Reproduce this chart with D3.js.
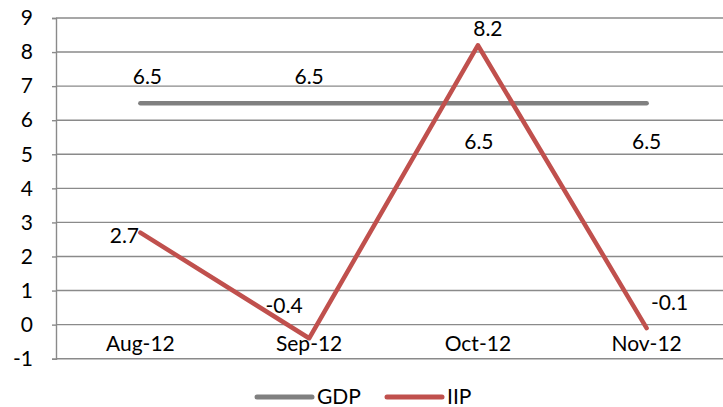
<!DOCTYPE html>
<html>
<head>
<meta charset="utf-8">
<script src="https://cdn.jsdelivr.net/npm/d3@7"></script>
<style>
  body { margin: 0; background: #fff; }
  text { font-family: Lato, "Noto Sans", sans-serif; fill: #000; }
</style>
</head>
<body>
<svg id="chart" width="723" height="407"></svg>
<script>
// data
var months = ['Aug-12', 'Sep-12', 'Oct-12', 'Nov-12'];
var gdp = [6.5, 6.5, 6.5, 6.5];
var iip = [2.7, -0.4, 8.2, -0.1];
var yTicks = [-1, 0, 1, 2, 3, 4, 5, 6, 7, 8, 9];

// label offsets (dx, dy from the point) - Excel placed these by hand-ish
var gdpLabelPos = [[7, -27], [0, -27], [1, 38], [0, 38]];
var iipLabelPos = [[-16, 3], [-25, -33], [10, -17], [23, -25]];

var colors = { gdp: '#808080', iip: '#C0504D', grid: '#8a8a8a' };
var fontSize = '21px';

// plain hyphen instead of d3's unicode minus
var fmt = f => d => d3.format(f)(d).replace('\u2212', '-');

var svg = d3.select('#chart');

var x = d3.scaleBand()
          .domain(months)
          .range([56, 731])
          .padding(0);

var y = d3.scaleLinear()
          .domain([-1, 9])
          .range([358.7, 18]);

var cx = d => x(d) + x.bandwidth() / 2;

// horizontal gridlines
svg.append('g')
  .selectAll('line')
  .data(yTicks)
  .enter()
  .append('line')
    .attr('x1', 56)
    .attr('x2', 731)
    .attr('y1', d => y(d))
    .attr('y2', d => y(d))
    .attr('stroke', colors.grid)
    .attr('stroke-width', 1.4);

// y axis
var yAxis = d3.axisLeft(y)
              .tickValues(yTicks)
              .tickSize(4)
              .tickPadding(19)
              .tickFormat(fmt('d'));

var yg = svg.append('g')
  .attr('transform', 'translate(56,0)')
  .call(yAxis);
yg.select('.domain').attr('stroke', colors.grid).attr('stroke-width', 1.4);
yg.selectAll('.tick line').attr('stroke', colors.grid).attr('stroke-width', 1.4);
yg.selectAll('.tick text')
  .style('font-size', fontSize)
  .attr('fill', '#000');

// category labels
svg.append('g')
  .selectAll('text')
  .data(months)
  .enter()
  .append('text')
    .attr('x', d => cx(d))
    .attr('y', 351)
    .attr('text-anchor', 'middle')
    .style('font-size', fontSize)
    .text(d => d);

var line = d3.line()
             .x((d, i) => cx(months[i]))
             .y(d => y(d));

svg.append('path')
  .datum(gdp)
  .attr('d', line)
  .attr('fill', 'none')
  .attr('stroke', colors.gdp)
  .attr('stroke-width', 4.5)
  .attr('stroke-linecap', 'round');

svg.append('path')
  .datum(iip)
  .attr('d', line)
  .attr('fill', 'none')
  .attr('stroke', colors.iip)
  .attr('stroke-width', 4.5)
  .attr('stroke-linecap', 'round')
  .attr('stroke-linejoin', 'round');

// data labels
function addLabels(values, offsets) {
  svg.append('g')
    .selectAll('text')
    .data(values)
    .enter()
    .append('text')
      .attr('x', (d, i) => cx(months[i]) + offsets[i][0])
      .attr('y', (d, i) => y(d) + offsets[i][1])
      .attr('dy', '0.35em')
      .attr('text-anchor', 'middle')
      .style('font-size', fontSize)
      .text(fmt('.1f'));
}
addLabels(gdp, gdpLabelPos);
addLabels(iip, iipLabelPos);

// legend
var legend = [['GDP', colors.gdp, 257], ['IIP', colors.iip, 387]];
var lg = svg.append('g')
  .selectAll('g')
  .data(legend)
  .enter()
  .append('g')
    .attr('transform', d => `translate(${d[2]},397)`);
lg.append('line')
  .attr('x1', 0)
  .attr('x2', 55)
  .attr('stroke', d => d[1])
  .attr('stroke-width', 5)
  .attr('stroke-linecap', 'round');
lg.append('text')
  .attr('x', 60)
  .attr('dy', '0.35em')
  .style('font-size', fontSize)
  .text(d => d[0]);
</script>
</body>
</html>
